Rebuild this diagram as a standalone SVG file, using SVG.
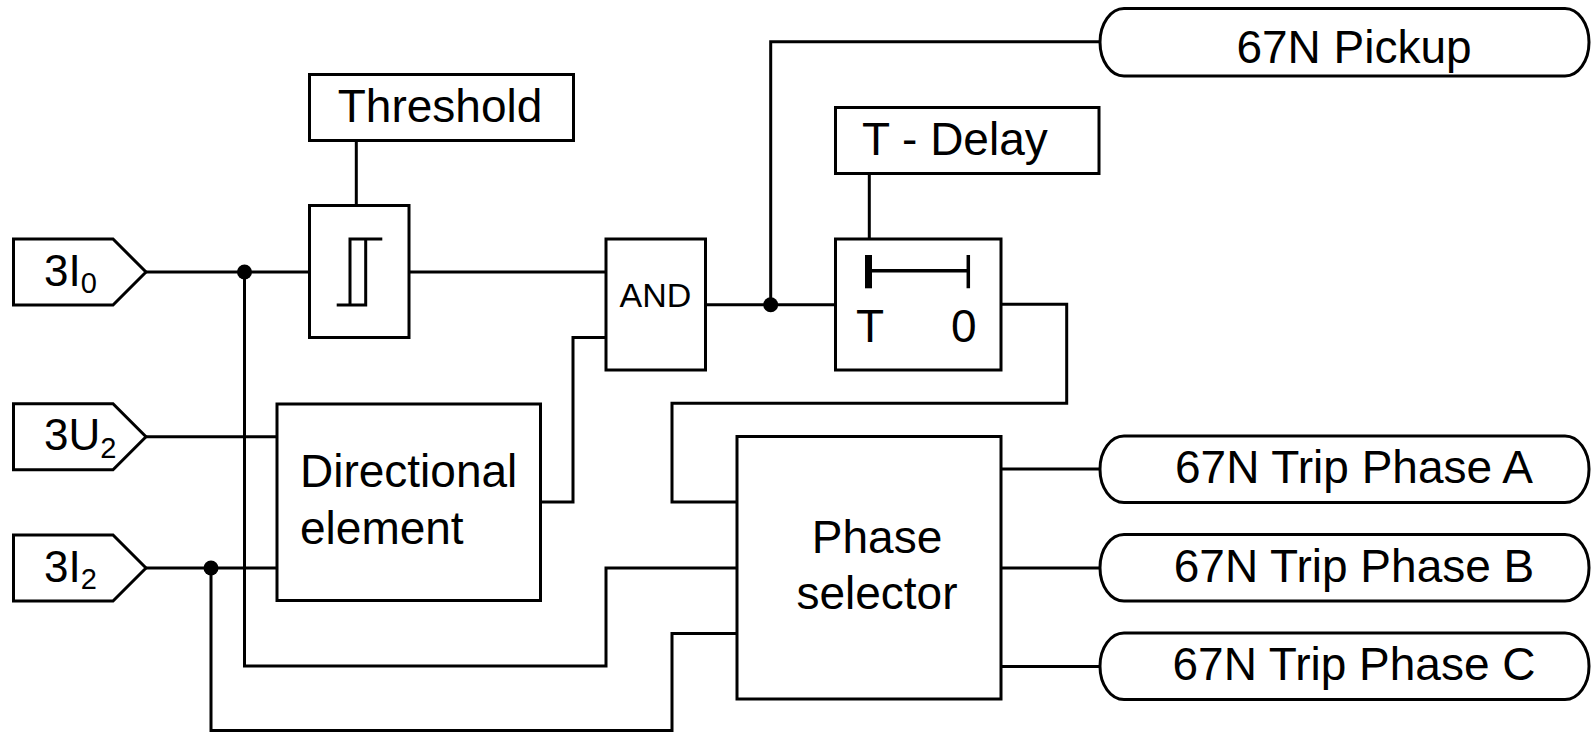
<svg xmlns="http://www.w3.org/2000/svg" width="1591" height="732" viewBox="0 0 1591 732">
<style>
.b{fill:#fff;stroke:#000;stroke-width:3}
.w{fill:none;stroke:#000;stroke-width:3}
.t{font-family:"Liberation Sans",Arial,sans-serif;font-size:46px;fill:#000}
.m{text-anchor:middle}
.s{font-size:29px}
</style>
<rect width="1591" height="732" fill="#fff"/>
<g id="connectors" class="w">
<path d="M146,272 H309.5"/>
<path d="M409,272 H606"/>
<path d="M244.5,272 V666 H606 V568 H737"/>
<path d="M146,436.7 H277"/>
<path d="M146,568 H277"/>
<path d="M211,568 V730.5 H672 V633.5 H737"/>
<path d="M540.5,502 H573 V337.5 H606"/>
<path d="M705.5,304.7 H835.5"/>
<path d="M770.7,304.7 V41.7 H1100"/>
<path d="M356.3,140.5 V205.5"/>
<path d="M869.3,173.5 V239"/>
<path d="M1001,304.3 H1066.7 V403.3 H672 V502 H737"/>
<path d="M1001,469 H1100"/>
<path d="M1001,568 H1100"/>
<path d="M1001,666.5 H1100"/>
<circle cx="244.5" cy="272" r="7.5" fill="#000" stroke="none"/>
<circle cx="211" cy="568" r="7.5" fill="#000" stroke="none"/>
<circle cx="770.7" cy="304.7" r="7.5" fill="#000" stroke="none"/>
</g>
<g id="in-3I0">
<polygon class="b" points="13.5,239 113,239 146,272 113,305 13.5,305"/>
<text class="t" x="44" y="285.5" style="font-size:44px">3I<tspan class="s" dy="7.5">0</tspan></text>
</g>
<g id="in-3U2">
<polygon class="b" points="13.5,403.7 113,403.7 146,436.7 113,469.7 13.5,469.7"/>
<text class="t" x="44" y="450" style="font-size:44px">3U<tspan class="s" dy="7.5">2</tspan></text>
</g>
<g id="in-3I2">
<polygon class="b" points="13.5,535 113,535 146,568 113,601 13.5,601"/>
<text class="t" x="44" y="581.5" style="font-size:44px">3I<tspan class="s" dy="7.5">2</tspan></text>
</g>
<g id="threshold">
<rect class="b" x="309.5" y="74.5" width="264" height="66"/>
<text class="t m" x="440" y="122">Threshold</text>
</g>
<g id="hysteresis">
<rect class="b" x="309.5" y="205.5" width="99.5" height="132"/>
<path class="w" d="M336.7,305 H365.7 V239 M350,305 V239 H382.3"/>
</g>
<g id="and">
<rect class="b" x="606" y="239" width="99.5" height="131"/>
<text class="t m" x="655.5" y="306.7" style="font-size:34px">AND</text>
</g>
<g id="directional">
<rect class="b" x="277" y="404" width="263.5" height="196.5"/>
<text class="t" x="300" y="487">Directional</text>
<text class="t" x="300" y="543.5">element</text>
</g>
<g id="tdelay">
<rect class="b" x="835.5" y="107.5" width="263.5" height="66"/>
<text class="t" x="862" y="155">T - Delay</text>
</g>
<g id="timer">
<rect class="b" x="835.5" y="239" width="165.5" height="131"/>
<rect x="865" y="255" width="7" height="33.3" fill="#000"/>
<path class="w" d="M868,270.7 H968.3 M968.3,255 V288.3" style="stroke-width:3.5"/>
<text class="t" x="856" y="341.7">T</text>
<text class="t" x="951" y="341.7">0</text>
</g>
<g id="phase-selector">
<rect class="b" x="737" y="436.5" width="264" height="262.5"/>
<text class="t m" x="877" y="553.3">Phase</text>
<text class="t m" x="877" y="609.3">selector</text>
</g>
<g id="out-pickup">
<rect class="b" x="1100" y="8.5" width="489" height="67.5" rx="24" ry="33.7"/>
<text class="t m" x="1354" y="63.3">67N Pickup</text>
</g>
<g id="out-tripA">
<rect class="b" x="1100" y="436" width="489" height="66.5" rx="24" ry="33"/>
<text class="t m" x="1354" y="483.3">67N Trip Phase A</text>
</g>
<g id="out-tripB">
<rect class="b" x="1100" y="534.5" width="489" height="66.5" rx="24" ry="33"/>
<text class="t m" x="1354" y="582">67N Trip Phase B</text>
</g>
<g id="out-tripC">
<rect class="b" x="1100" y="633" width="489" height="66.5" rx="24" ry="33"/>
<text class="t m" x="1354" y="680">67N Trip Phase C</text>
</g>
</svg>
